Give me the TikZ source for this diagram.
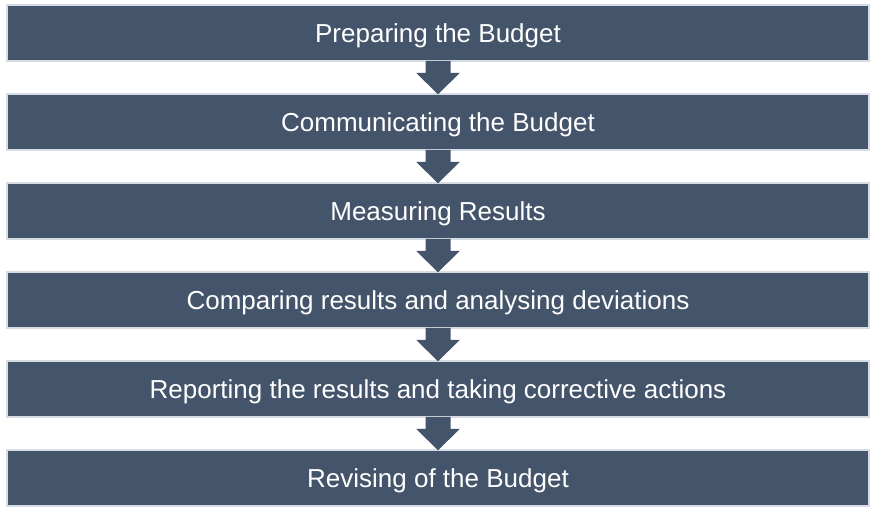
\documentclass[tikz,border=0pt]{standalone}
\usepackage{fontspec}
\setmainfont{Liberation Sans}
\usetikzlibrary{calc}
\definecolor{boxfill}{HTML}{44546A}
\definecolor{boxline}{HTML}{D6DCE4}
\begin{document}
\begin{tikzpicture}[x=1pt,y=1pt,
  stepbox/.style={draw=boxline, line width=1.5pt, fill=boxfill, minimum width=862pt, minimum height=56pt, inner sep=0pt, text=white, font=\fontsize{26}{30}\selectfont, text height=18.6pt, text depth=0pt, anchor=center},
  blockarrow/.style={fill=boxfill, draw=none}]
\useasboundingbox (0,0) rectangle (876,-514);
\fill[white] (0,0) rectangle (876,-514);
\node[stepbox] (b1) at (438,-33) {Preparing the Budget};
\node[stepbox] (b2) at (438,-122) {Communicating the Budget};
\node[stepbox] (b3) at (438,-211) {Measuring Results};
\node[stepbox] (b4) at (438,-300) {Comparing results and analysing deviations};
\node[stepbox] (b5) at (438,-389) {Reporting the results and taking corrective actions};
\node[stepbox] (b6) at (438,-478) {Revising of the Budget};
\foreach \a/\b in {b1/b2,b2/b3,b3/b4,b4/b5,b5/b6}{
  \fill[blockarrow] ($(\a.south)+(-12.5,0.8)$) -- ($(\a.south)+(-12.5,-11)$) -- ($(\a.south)+(-22,-11)$)
    -- ($(\b.north)+(0,-1)$) -- ($(\a.south)+(22,-11)$) -- ($(\a.south)+(12.5,-11)$) -- ($(\a.south)+(12.5,0.8)$) -- cycle;
}
\end{tikzpicture}
\end{document}
